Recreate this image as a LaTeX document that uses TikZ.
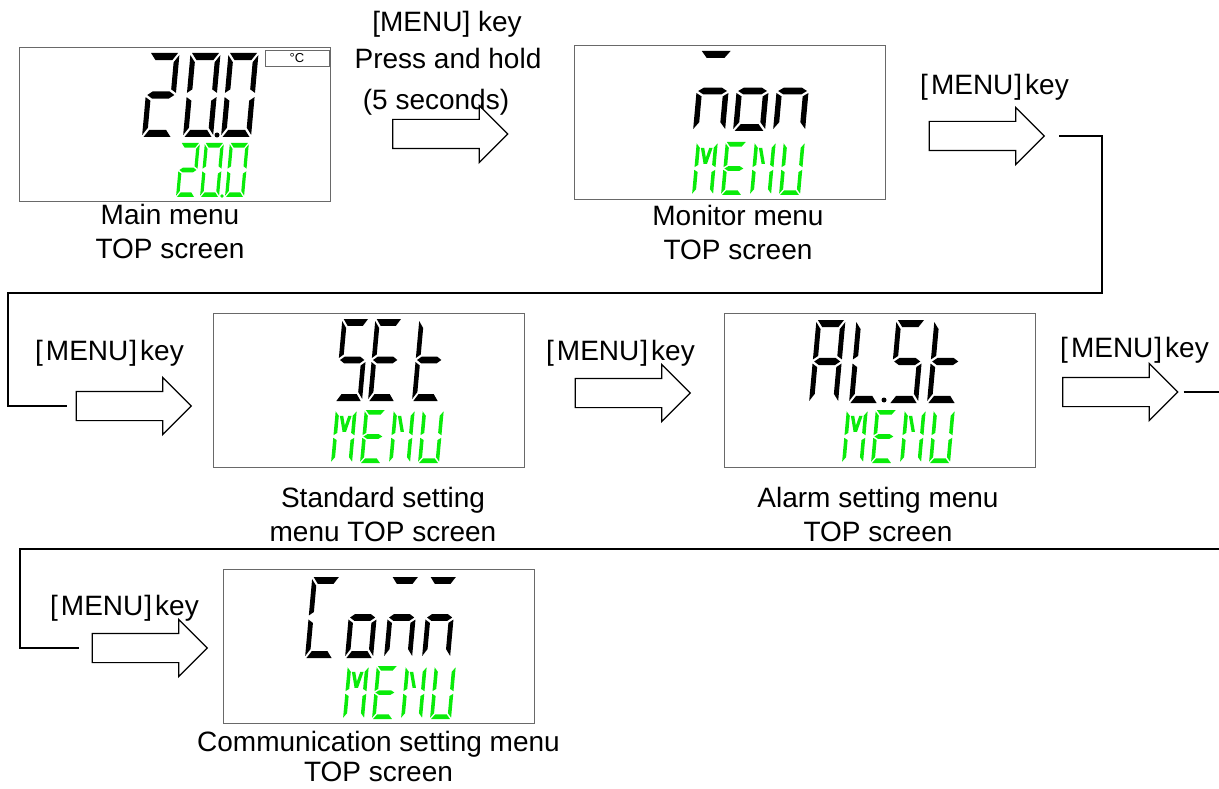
\documentclass[tikz,border=0pt]{standalone}
\usepackage{fontspec}
\setmainfont{Liberation Sans}
\usepackage{xcolor}
\definecolor{LcdGreen}{RGB}{10,235,10}
\definecolor{FrameGray}{RGB}{105,105,105}
\usepackage{tikz}
\usetikzlibrary{shapes.arrows, positioning}

% Segment geometry of one LCD character (unit cell: 1 wide, 2 high)
\newcommand{\lcdgap}{0.05}
\newcommand{\lcdthk}{0.17}
\newcommand{\lcdsega}{({\lcdgap},2) -- ({1-\lcdgap},2) -- ({1-\lcdgap-\lcdthk},{2-\lcdthk}) -- ({\lcdgap+\lcdthk},{2-\lcdthk}) -- cycle}
\newcommand{\lcdsegd}{({\lcdgap},0) -- ({1-\lcdgap},0) -- ({1-\lcdgap-\lcdthk},{\lcdthk}) -- ({\lcdgap+\lcdthk},{\lcdthk}) -- cycle}
\newcommand{\lcdsegg}{({\lcdgap},1) -- ({\lcdgap+\lcdthk},{1+\lcdthk/2}) -- ({1-\lcdgap-\lcdthk},{1+\lcdthk/2}) -- ({1-\lcdgap},1) -- ({1-\lcdgap-\lcdthk},{1-\lcdthk/2}) -- ({\lcdgap+\lcdthk},{1-\lcdthk/2}) -- cycle}
\newcommand{\lcdsegf}{(0,{2-\lcdgap}) -- ({\lcdthk},{2-\lcdgap-\lcdthk}) -- ({\lcdthk},{1+\lcdgap+\lcdthk/2}) -- (0,{1+\lcdgap}) -- cycle}
\newcommand{\lcdsegb}{(1,{2-\lcdgap}) -- ({1-\lcdthk},{2-\lcdgap-\lcdthk}) -- ({1-\lcdthk},{1+\lcdgap+\lcdthk/2}) -- (1,{1+\lcdgap}) -- cycle}
\newcommand{\lcdsege}{(0,{\lcdgap}) -- ({\lcdthk},{\lcdgap+\lcdthk}) -- ({\lcdthk},{1-\lcdgap-\lcdthk/2}) -- (0,{1-\lcdgap}) -- cycle}
\newcommand{\lcdsegc}{(1,{\lcdgap}) -- ({1-\lcdthk},{\lcdgap+\lcdthk}) -- ({1-\lcdthk},{1-\lcdgap-\lcdthk/2}) -- (1,{1-\lcdgap}) -- cycle}
% diagonals for M and N
\newcommand{\lcdsegh}{({\lcdthk+\lcdgap},{2-\lcdthk-\lcdgap}) -- ({\lcdthk+\lcdgap+0.16},{2-\lcdthk-\lcdgap}) -- (0.58,{1+\lcdthk}) -- (0.42,{1+\lcdthk}) -- cycle}
\newcommand{\lcdsegi}{({1-\lcdthk-\lcdgap},{2-\lcdthk-\lcdgap}) -- ({1-\lcdthk-\lcdgap-0.16},{2-\lcdthk-\lcdgap}) -- (0.42,{1+\lcdthk}) -- (0.58,{1+\lcdthk}) -- cycle}

% \lcdchar[colour]{x}{y bottom}{width}{height}{segments}
\newcommand{\lcdchar}[6][black]{%
  \begin{scope}[shift={(#2,#3)}, xslant=0.09, x=#4pt, y=#5*0.5pt, fill=#1]
    \foreach \s in {#6} {\expandafter\fill\csname lcdseg\s\endcsname;}
  \end{scope}}
% green MENU line
\newcommand{\lcdmenu}[2]{%
  \lcdchar[LcdGreen]{#1}{#2}{21}{53}{f,e,b,c,h,i}%
  \lcdchar[LcdGreen]{#1+29}{#2}{21}{53}{a,f,g,e,d}%
  \lcdchar[LcdGreen]{#1+58}{#2}{21}{53}{f,e,b,c,h}%
  \lcdchar[LcdGreen]{#1+87}{#2}{21}{53}{f,e,b,c,d}}
\newcommand{\menukey}{[\kern3pt MENU\kern1pt]\kern3pt key}

\tikzset{
  % LCD screen frame
  lcdbox/.style={
    rectangle, draw=FrameGray, line width=0.9pt,
    minimum width=311pt, minimum height=154pt, inner sep=0pt
  },
  unitbox/.style={
    rectangle, draw=FrameGray, line width=0.8pt,
    minimum width=64pt, minimum height=16pt, inner sep=0pt,
    font=\fontsize{13}{13}\selectfont
  },
  % Hollow key arrow
  keyarrow/.style={
    single arrow, draw=black, fill=white, line width=1.2pt,
    minimum height=115pt, inner xsep=0pt, inner ysep=14pt,
    single arrow head extend=14pt
  },
  keytext/.style={anchor=base, inner sep=0pt},
  caption/.style={align=center, inner sep=0pt},
  link/.style={line width=1.3pt},
}

\begin{document}
\begin{tikzpicture}[x=1pt, y=-1pt, font=\fontsize{28}{33.6}\selectfont]
  \useasboundingbox (0,0) rectangle (1219,789);

  % screens
  \node[lcdbox] (mainbox) at (174.5,124) {};
  \node[lcdbox] (monbox) at (730,122) {};
  \node[lcdbox] (setbox) at (369,390.5) {};
  \node[lcdbox] (alsbox) at (879.5,390.5) {};
  \node[lcdbox] (combox) at (378.5,646) {};
  \node[unitbox] (unitc) at (297,58) {°C};

  \node[caption, below=3pt of mainbox, xshift=-4.5pt] (maincap) {Main menu\\TOP screen};
  \node[caption, below=6pt of monbox, xshift=8pt] (moncap) {Monitor menu\\TOP screen};
  \node[caption, below=19pt of setbox, xshift=14pt] (setcap) {Standard setting\\menu TOP screen};
  \node[caption, below=19pt of alsbox, xshift=-1.5pt] (alscap) {Alarm setting menu\\TOP screen};
  \node[caption, below=8pt of combox, font=\fontsize{28}{30}\selectfont] (comcap) {Communication setting menu\\TOP screen};

  % display contents
  \lcdchar{142}{137}{30}{84}{a,b,g,e,d}
  \lcdchar{183}{137}{30}{84}{a,b,c,d,e,f}
  \fill (217,135) circle (2.5pt);
  \lcdchar{221}{137}{30}{84}{a,b,c,d,e,f}
  \lcdchar[LcdGreen]{176}{197}{19}{54}{a,b,g,e,d}
  \lcdchar[LcdGreen]{200}{197}{19}{54}{a,b,c,d,e,f}
  \fill[LcdGreen] (222,196) circle (1.8pt);
  \lcdchar[LcdGreen]{225}{197}{19}{54}{a,b,c,d,e,f}

  \lcdchar{693}{131}{32}{80}{a,c,e,g}
  \lcdchar{733}{131}{32}{80}{c,d,e,g}
  \lcdchar{773}{131}{32}{80}{c,e,g}
  \lcdmenu{692}{195}

  \lcdchar{335}{401}{27}{82}{a,f,g,c,d}
  \lcdchar{368}{401}{27}{82}{a,f,g,e,d}
  \lcdchar{412}{401}{27}{82}{f,e,g,d}
  \lcdmenu{331}{463}

  \lcdchar{809}{403}{29}{83}{a,b,c,e,f,g}
  \lcdchar{849}{403}{29}{83}{f,e,d}
  \fill (884,400) circle (2.5pt);
  \lcdchar{889}{403}{29}{83}{a,f,g,c,d}
  \lcdchar{927}{403}{29}{83}{f,e,g,d}
  \lcdmenu{842}{463}

  \lcdchar{305}{658}{28}{81}{a,f,e,d}
  \lcdchar{345}{658}{28}{81}{c,d,e,g}
  \lcdchar{384}{658}{28}{81}{a,c,e,g}
  \lcdchar{422}{658}{28}{81}{a,c,e,g}
  \lcdmenu{343}{719}

  % key arrows
  \node[keyarrow] (arrA) at (443,134) {};
  \node[keyarrow] (arrB) at (979.5,136) {};
  \node[keyarrow] (arrC) at (126.5,406) {};
  \node[keyarrow] (arrD) at (625.5,393) {};
  \node[keyarrow] (arrE) at (1113,392) {};
  \node[keyarrow] (arrF) at (142.5,648) {};

  \node[keytext] (keyA) at (447,32) {[MENU] key};
  \node[keytext] (holdA) at (448,69) {Press and hold};
  \node[keytext] (secA) at (436,110) {(5 seconds)};
  \node[keytext] (keyB) at (994.5,95) {\menukey};
  \node[keytext] (keyC) at (109.5,360) {\menukey};
  \node[keytext] (keyD) at (620.5,360) {\menukey};
  \node[keytext] (keyE) at (1134.5,357) {\menukey};
  \node[keytext] (keyF) at (124.5,615) {\menukey};

  % wrap-around lines
  \coordinate (bendA) at (1102,293);
  \coordinate (bendB) at (8,293);
  \draw[link] ([xshift=14pt]arrB.tip) -| (bendA) -- (bendB) |- ([xshift=-9pt]arrC.tail);
  \coordinate (exitR) at (1221,392);
  \draw[link] ([xshift=5pt]arrE.tip) -- (exitR);
  \coordinate (enterR) at (1221,549);
  \coordinate (bendC) at (20,549);
  \draw[link] (enterR) -- (bendC) |- ([xshift=-13pt]arrF.tail);
\end{tikzpicture}
\end{document}
